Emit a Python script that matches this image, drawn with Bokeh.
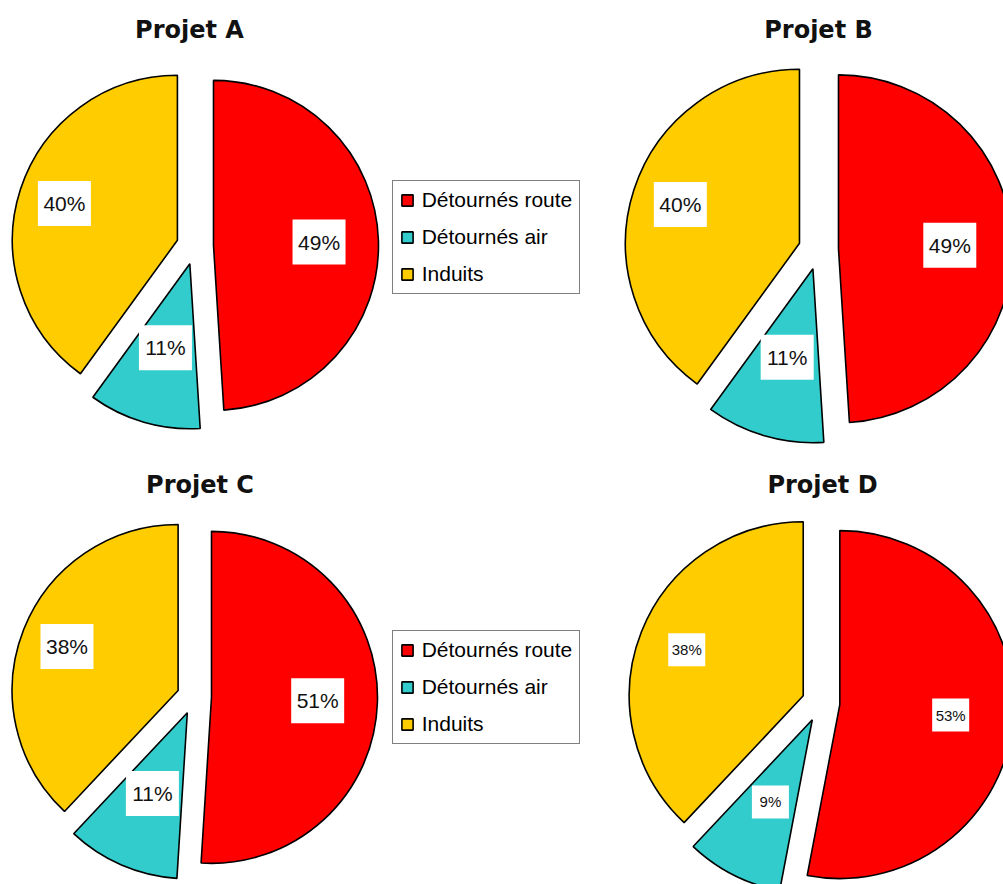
import math
from bokeh.plotting import figure
from bokeh.models import Range1d, Legend, LegendItem, ColumnDataSource
from bokeh.embed import file_html
from bokeh.resources import INLINE
from bokeh.core.properties import value

# ---------------- data ----------------
projects = ["Projet A", "Projet B", "Projet C", "Projet D"]
categories = ["Détournés route", "Détournés air", "Induits"]
route = [49, 49, 51, 53]
air = [11, 11, 11, 9]
induits = [40, 40, 38, 38]
colors = ["#FF0000", "#33CCCC", "#FFCC00"]

# ---------------- layout (screen px, y downward) ----------------
W, H = 1003, 884
pie_cx = [194.5, 818.0, 193.7, 820.4]
pie_cy = [245.5, 249.0, 696.3, 702.3]
pie_r = [165, 174, 166, 174]
pie_explode = [18.5, 20, 17.3, 19]
title_x = [189.0, 818.0, 199.5, 822.0]
title_mid = [29.0, 29.0, 484.0, 484.0]
label_frac = [0.64, 0.53, 0.72]
label_w = [53, 53, 53, 37]
label_h = [45, 45, 45, 33]
label_fs = ["21px", "21px", "21px", "15px"]
legend_left = [391.7, None, 391.7, None]
legend_bottom = [294.0, None, 744.0, None]

p = figure(width=W, height=H, x_range=Range1d(0, W), y_range=Range1d(0, H),
           x_axis_type=None, y_axis_type=None, output_backend="svg",
           toolbar_location=None, min_border=0)
p.grid.visible = False
p.outline_line_color = None
p.background_fill_color = "white"

for i, proj in enumerate(projects):
    vals = [route[i], air[i], induits[i]]
    total = float(sum(vals))
    cx, cy = pie_cx[i], H - pie_cy[i]
    r, d = pie_r[i], pie_explode[i]
    xs, ys, sa, ea, lx, ly, txt = [], [], [], [], [], [], []
    cum = 0.0
    for j, v in enumerate(vals):
        f0 = cum / total
        f1 = (cum + v) / total
        cum += v
        th = (f0 + f1) / 2 * 2 * math.pi
        dx, dy = math.sin(th), math.cos(th)
        ax, ay = cx + d * dx, cy + d * dy
        xs.append(ax)
        ys.append(ay)
        sa.append(math.pi / 2 - f0 * 2 * math.pi)
        ea.append(math.pi / 2 - f1 * 2 * math.pi)
        lx.append(ax + label_frac[j] * r * dx)
        ly.append(ay + label_frac[j] * r * dy)
        txt.append(f"{v}%")
    src = ColumnDataSource(dict(x=xs, y=ys, sa=sa, ea=ea, color=colors, cat=categories))
    wr = p.wedge(x="x", y="y", radius=r, start_angle="sa", end_angle="ea",
                 direction="clock", fill_color="color", line_color="black",
                 line_width=1.6, source=src)
    p.rect(x=lx, y=ly, width=label_w[i], height=label_h[i],
           fill_color="white", line_color=None)
    p.text(x=lx, y=ly, text=txt, text_align="center", text_baseline="middle",
           text_font=value("Liberation Sans"), text_font_size=label_fs[i],
           text_color="#111111")
    p.text(x=[title_x[i]], y=[H - title_mid[i]], text=[proj], text_align="center",
           text_baseline="middle", text_font=value("DejaVu Sans"),
           text_font_style="bold", text_font_size="24px", text_color="#111111")
    if legend_left[i] is not None:
        items = [LegendItem(label=categories[j], renderers=[wr], index=j) for j in range(3)]
        leg = Legend(items=items, location=(legend_left[i], H - legend_bottom[i]),
                     border_line_color="black", border_line_width=1,
                     background_fill_color="white", background_fill_alpha=1.0,
                     label_text_font="Liberation Sans", label_text_font_size="21px",
                     label_text_color="black",
                     glyph_width=14, glyph_height=14, label_standoff=8,
                     spacing=13, padding=7, margin=0, label_height=23)
        p.add_layout(leg)

open("out.html", "w").write(file_html(p, INLINE))
